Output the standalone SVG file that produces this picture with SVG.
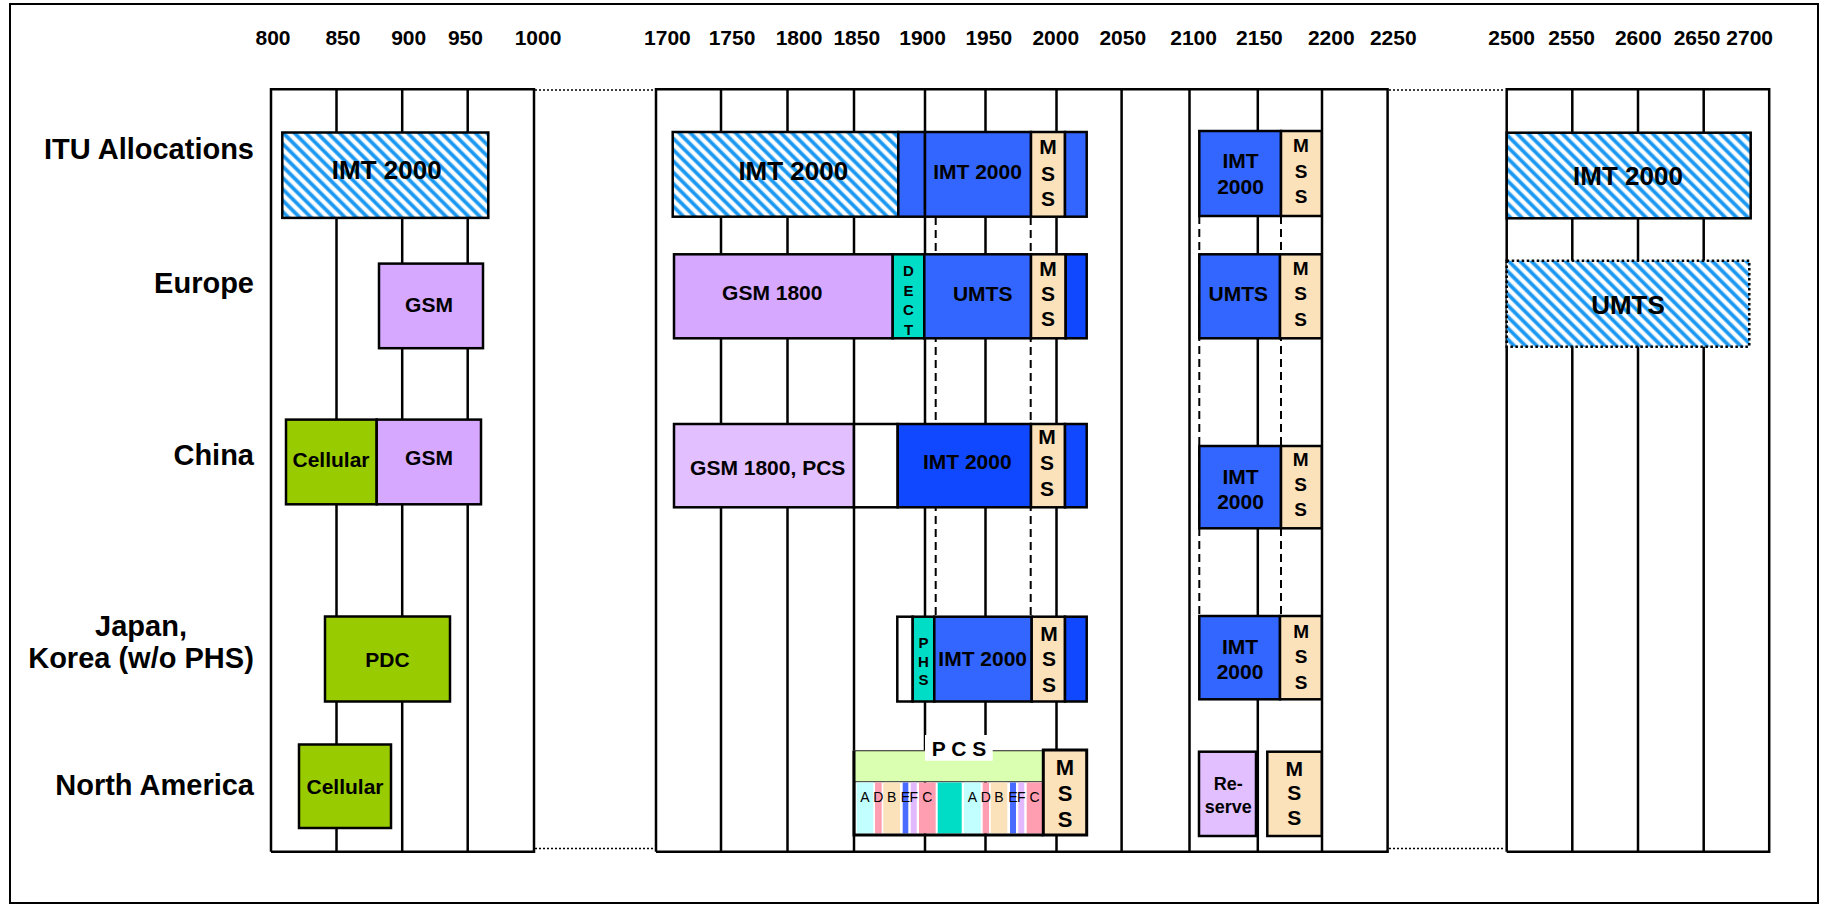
<svg xmlns="http://www.w3.org/2000/svg" width="1824" height="905" viewBox="0 0 1824 905">
<style>
.t{font-family:"Liberation Sans",Arial,sans-serif;font-weight:bold;fill:#000;text-anchor:middle}
.lab{font-family:"Liberation Sans",Arial,sans-serif;font-weight:bold;fill:#000;font-size:29px;text-anchor:end}
.ax{font-size:21px}
.s21{font-size:21px}
.s26{font-size:26px}
.s19{font-size:19px}
.s15{font-size:15px}
.s18{font-size:18px}
.sl{font-family:"Liberation Sans",Arial,sans-serif;font-size:14px;fill:#000;text-anchor:middle}
.b{stroke:#000;stroke-width:2.5}
.grid{stroke:#000;stroke-width:2.5;fill:none}
.dash{stroke:#000;stroke-width:2;stroke-dasharray:8 5;fill:none}
.dot{stroke:#000;stroke-width:1.5;stroke-dasharray:2 2;fill:none}
.hatch{fill:url(#hatch)}
.blue{fill:#3366FF}
.dblue{fill:#1048FF}
.mss{fill:#FCE2BA}
.gsm{fill:#D6A8FF}
.lgsm{fill:#E2BFFF}
.green{fill:#99CC00}
.teal{fill:#00DDC6}
.white{fill:#FFFFFF}
</style>
<defs>
<pattern id="hatch" patternUnits="userSpaceOnUse" width="8" height="8" patternTransform="rotate(-45)">
<rect width="8" height="8" fill="#FFFFFF"/>
<rect x="0" width="4.4" height="8" fill="#8ECBFA"/>
<rect x="0.7" width="3" height="8" fill="#1696F0"/>
</pattern>
</defs>
<rect x="10" y="4" width="1808" height="899" fill="#FFFFFF" stroke="#000" stroke-width="2"/>

<g id="axis-labels" class="t ax">
<text x="273" y="45">800</text><text x="342.9" y="45">850</text><text x="408.7" y="45">900</text><text x="465.4" y="45">950</text><text x="538" y="45">1000</text>
<text x="667.4" y="45">1700</text><text x="732" y="45">1750</text><text x="799" y="45">1800</text><text x="856.8" y="45">1850</text><text x="922.6" y="45">1900</text><text x="988.8" y="45">1950</text><text x="1055.8" y="45">2000</text><text x="1122.8" y="45">2050</text><text x="1193.6" y="45">2100</text><text x="1259.4" y="45">2150</text><text x="1331.3" y="45">2200</text><text x="1393.3" y="45">2250</text>
<text x="1511.7" y="45">2500</text><text x="1571.7" y="45">2550</text><text x="1638.3" y="45">2600</text><text x="1697" y="45">2650</text><text x="1749.7" y="45">2700</text>
</g>

<g id="row-labels">
<text class="lab" x="254" y="158.5">ITU Allocations</text>
<text class="lab" x="254" y="293">Europe</text>
<text class="lab" x="254" y="465">China</text>
<text class="lab" x="141" y="636" style="text-anchor:middle">Japan,</text>
<text class="lab" x="141" y="668" style="text-anchor:middle">Korea (w/o PHS)</text>
<text class="lab" x="254" y="795">North America</text>
</g>

<g id="grid">
<path class="grid" d="M271,851.7V89.3H534V851.7H271M336.5,89.3V851.7M402.2,89.3V851.7M467.7,89.3V851.7"/>
<path class="grid" d="M656,851.7V89.3H1387.6V851.7H656M721,89.3V851.7M787.5,89.3V851.7M854,89.3V851.7M925,89.3V851.7M985.5,89.3V851.7M1056.5,89.3V851.7M1121.6,89.3V851.7M1189.5,89.3V851.7M1257.8,89.3V851.7M1322,89.3V851.7"/>
<path class="grid" d="M1506.7,851.7V89.3H1769.2V851.7H1506.7M1572.3,89.3V851.7M1638,89.3V851.7M1703.7,89.3V851.7"/>
</g>

<g id="connectors">
<path class="dot" d="M535,90H655M1389,90H1505M535,848.5H655M1389,848.5H1505"/>
<path class="dash" d="M935.7,217V616M1030.7,217V616M1199.3,216V616M1281,216V616"/>
</g>

<!-- ITU Allocations -->
<g id="itu-imt2000-800">
<rect class="hatch b" x="282.3" y="132.5" width="206" height="85.4"/>
<text class="t s26" x="386.7" y="179">IMT 2000</text>
</g>
<g id="itu-imt2000-1700">
<rect class="hatch b" x="672.7" y="132" width="225.6" height="84.7"/>
<text class="t s26" x="793.3" y="180">IMT 2000</text>
</g>
<g id="itu-imt2000-1900">
<rect class="blue b" x="898.3" y="132" width="26.7" height="84.7"/>
<rect class="blue b" x="925" y="132" width="106" height="84.7"/>
<text class="t s21" x="977.5" y="179.2">IMT 2000</text>
</g>
<g id="itu-mss-2000">
<rect class="mss b" x="1031" y="132" width="34" height="84.7"/>
<text class="t s21" x="1048" y="154.2">M</text><text class="t s21" x="1048" y="180.8">S</text><text class="t s21" x="1048" y="205.8">S</text>
</g>
<g id="itu-blue-2010">
<rect class="blue b" x="1065" y="132" width="21.7" height="84.7"/>
</g>
<g id="itu-imt2000-2100">
<rect class="blue b" x="1199.3" y="131" width="81.7" height="85"/>
<text class="t s21" x="1240.5" y="167.5">IMT</text><text class="t s21" x="1240.5" y="193.5">2000</text>
</g>
<g id="itu-mss-2170">
<rect class="mss b" x="1281" y="131" width="40.7" height="85"/>
<text class="t s19" x="1301" y="151.5">M</text><text class="t s19" x="1301" y="177.8">S</text><text class="t s19" x="1301" y="202.8">S</text>
</g>
<g id="itu-imt2000-2500">
<rect class="hatch b" x="1506.7" y="132.7" width="244" height="85.6"/>
<text class="t s26" x="1628" y="185">IMT 2000</text>
</g>

<!-- Europe -->
<g id="eu-gsm">
<rect class="gsm b" x="379" y="263.6" width="104" height="84.6"/>
<text class="t s21" x="429" y="311.5">GSM</text>
</g>
<g id="eu-gsm1800">
<rect class="gsm b" x="674" y="254.3" width="218.7" height="84"/>
<text class="t s21" x="772.3" y="300">GSM 1800</text>
</g>
<g id="eu-dect">
<rect class="teal b" x="892.7" y="254.3" width="31.6" height="84"/>
<text class="t s15" x="908.5" y="276.4">D</text><text class="t s15" x="908.5" y="295.9">E</text><text class="t s15" x="908.5" y="315.4">C</text><text class="t s15" x="908.5" y="334.9">T</text>
</g>
<g id="eu-umts">
<rect class="blue b" x="924.3" y="254.3" width="106.7" height="84"/>
<text class="t s21" x="982.7" y="300.8">UMTS</text>
</g>
<g id="eu-mss">
<rect class="mss b" x="1031" y="254.3" width="34.7" height="84"/>
<text class="t s21" x="1048" y="275.8">M</text><text class="t s21" x="1048" y="300.8">S</text><text class="t s21" x="1048" y="325.8">S</text>
</g>
<g id="eu-blue-2010">
<rect class="dblue b" x="1065.7" y="254.3" width="21" height="84"/>
</g>
<g id="eu-umts-2100">
<rect class="blue b" x="1199.3" y="254.3" width="80.7" height="84"/>
<text class="t s21" x="1238.3" y="300.8">UMTS</text>
</g>
<g id="eu-mss-2170">
<rect class="mss b" x="1280" y="254.3" width="41.7" height="84"/>
<text class="t s19" x="1300.7" y="275.1">M</text><text class="t s19" x="1300.7" y="299.5">S</text><text class="t s19" x="1300.7" y="325.8">S</text>
</g>
<g id="eu-umts-2500">
<rect class="hatch" x="1506.7" y="260.7" width="242.6" height="86"/>
<rect x="1506.7" y="260.7" width="242.6" height="86" fill="none" stroke="#000" stroke-width="2.5" stroke-dasharray="2.5 2.5"/>
<text class="t s26" x="1628" y="313.6">UMTS</text>
</g>

<!-- China -->
<g id="cn-cellular">
<rect class="green b" x="286" y="419.6" width="90.7" height="84.7"/>
<text class="t s21" x="331" y="466.8">Cellular</text>
</g>
<g id="cn-gsm">
<rect class="gsm b" x="376.7" y="419.6" width="104.3" height="84.7"/>
<text class="t s21" x="429" y="464.5">GSM</text>
</g>
<g id="cn-gsm1800-pcs">
<rect class="lgsm b" x="674" y="424" width="180" height="83.3"/>
<text class="t s21" x="767.7" y="475.2">GSM 1800, PCS</text>
</g>
<g id="cn-blank">
<rect class="white b" x="854" y="424" width="43.7" height="83.3"/>
</g>
<g id="cn-imt2000">
<rect class="dblue b" x="897.7" y="424" width="133.3" height="83.3"/>
<text class="t s21" x="967.3" y="468.5">IMT 2000</text>
</g>
<g id="cn-mss">
<rect class="mss b" x="1031" y="424" width="34" height="83.3"/>
<text class="t s21" x="1047" y="444.2">M</text><text class="t s21" x="1047" y="470.2">S</text><text class="t s21" x="1047" y="495.8">S</text>
</g>
<g id="cn-blue-2010">
<rect class="dblue b" x="1065" y="424" width="21.7" height="83.3"/>
</g>
<g id="cn-imt2000-2100">
<rect class="blue b" x="1199.3" y="446" width="81.7" height="82.3"/>
<text class="t s21" x="1240.5" y="483.5">IMT</text><text class="t s21" x="1240.5" y="509.2">2000</text>
</g>
<g id="cn-mss-2170">
<rect class="mss b" x="1281" y="446" width="40.7" height="82.3"/>
<text class="t s19" x="1300.7" y="466.1">M</text><text class="t s19" x="1300.7" y="491.1">S</text><text class="t s19" x="1300.7" y="515.8">S</text>
</g>

<!-- Japan, Korea -->
<g id="jp-pdc">
<rect class="green b" x="325" y="616.5" width="125" height="85"/>
<text class="t s21" x="387.5" y="666.5">PDC</text>
</g>
<g id="jp-blank">
<rect class="white b" x="897.3" y="616.7" width="15.4" height="84.8"/>
</g>
<g id="jp-phs">
<rect class="teal b" x="912.7" y="616.7" width="21.6" height="84.8"/>
<text class="t s15" x="923.5" y="648.1">P</text><text class="t s15" x="923.5" y="667.1">H</text><text class="t s15" x="923.5" y="685.4">S</text>
</g>
<g id="jp-imt2000">
<rect class="blue b" x="934.3" y="616.7" width="97.4" height="84.8"/>
<text class="t s21" x="982.7" y="665.8">IMT 2000</text>
</g>
<g id="jp-mss">
<rect class="mss b" x="1031.7" y="616.7" width="33.3" height="84.8"/>
<text class="t s21" x="1049" y="640.8">M</text><text class="t s21" x="1049" y="665.8">S</text><text class="t s21" x="1049" y="691.5">S</text>
</g>
<g id="jp-blue-2010">
<rect class="dblue b" x="1065" y="616.7" width="21.7" height="84.8"/>
</g>
<g id="jp-imt2000-2100">
<rect class="blue b" x="1199.3" y="616" width="80.7" height="83.3"/>
<text class="t s21" x="1240" y="654.2">IMT</text><text class="t s21" x="1240" y="679.2">2000</text>
</g>
<g id="jp-mss-2170">
<rect class="mss b" x="1280" y="616" width="41.7" height="83.3"/>
<text class="t s19" x="1301.2" y="637.5">M</text><text class="t s19" x="1301.2" y="662.8">S</text><text class="t s19" x="1301.2" y="688.5">S</text>
</g>

<!-- North America -->
<g id="na-cellular">
<rect class="green b" x="299" y="744.5" width="92" height="83.5"/>
<text class="t s21" x="345" y="793.5">Cellular</text>
</g>
<g id="na-pcs">
<rect x="854" y="750.7" width="189.3" height="31" fill="#DAFFB0" stroke="#444" stroke-width="1.2"/>
<rect x="856.7" y="782.5" width="16.6" height="51" fill="#C2FFFF"/>
<rect x="875" y="782.5" width="6.7" height="51" fill="#FF9EB0"/>
<rect x="883.3" y="782.5" width="16.7" height="51" fill="#FCE2BA"/>
<rect x="902.7" y="782.5" width="5.6" height="51" fill="#4A6BFF"/>
<rect x="910.7" y="782.5" width="6" height="51" fill="#E2B8FF"/>
<rect x="919" y="782.5" width="16.7" height="51" fill="#FF9EB0"/>
<rect x="937.7" y="782.5" width="24" height="51" fill="#00DDC6"/>
<rect x="964" y="782.5" width="16.7" height="51" fill="#C2FFFF"/>
<rect x="982.7" y="782.5" width="6.3" height="51" fill="#FF9EB0"/>
<rect x="990.7" y="782.5" width="16.6" height="51" fill="#FCE2BA"/>
<rect x="1010" y="782.5" width="6" height="51" fill="#4A6BFF"/>
<rect x="1018.3" y="782.5" width="6" height="51" fill="#E2B8FF"/>
<rect x="1026.7" y="782.5" width="15.6" height="51" fill="#FF9EB0"/>
<text class="sl" x="865" y="801.7">A</text><text class="sl" x="878.3" y="801.7">D</text><text class="sl" x="891.7" y="801.7">B</text><text class="sl" x="905.5" y="801.7">E</text><text class="sl" x="913.7" y="801.7">F</text><text class="sl" x="927.3" y="801.7">C</text>
<text class="sl" x="972.3" y="801.7">A</text><text class="sl" x="985.8" y="801.7">D</text><text class="sl" x="999" y="801.7">B</text><text class="sl" x="1013" y="801.7">E</text><text class="sl" x="1021.3" y="801.7">F</text><text class="sl" x="1034.5" y="801.7">C</text>
<path d="M854,750.7V835H1043.3" fill="none" stroke="#000" stroke-width="3"/>
<rect x="925" y="735" width="67.7" height="25.7" fill="#FFFFFF"/>
<text class="t s21" x="959" y="755.8">P C S</text>
</g>
<g id="na-mss">
<rect class="mss" x="1043.3" y="750" width="43.4" height="85" stroke="#000" stroke-width="3"/>
<text class="t" style="font-size:22px" x="1065" y="774.6">M</text><text class="t" style="font-size:22px" x="1065" y="801.2">S</text><text class="t" style="font-size:22px" x="1065" y="827.2">S</text>
</g>
<g id="na-reserve">
<rect class="lgsm b" x="1199" y="751.7" width="57" height="84.3"/>
<text class="t s18" x="1228.3" y="790.4">Re-</text><text class="t s18" x="1228.3" y="813.1">serve</text>
</g>
<g id="na-mss-2170">
<rect class="mss b" x="1267.3" y="751.7" width="54.4" height="84.3"/>
<text class="t s21" x="1294.3" y="775.8">M</text><text class="t s21" x="1294.3" y="800.2">S</text><text class="t s21" x="1294.3" y="824.8">S</text>
</g>
</svg>
